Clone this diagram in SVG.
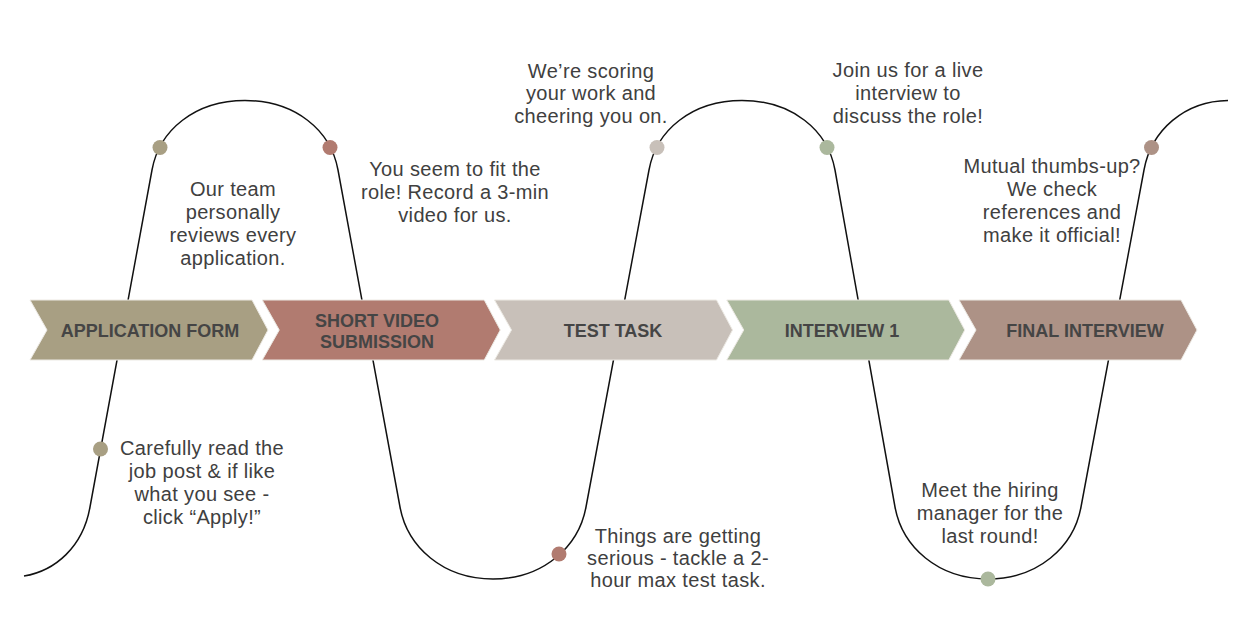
<svg xmlns="http://www.w3.org/2000/svg" width="1254" height="640" viewBox="0 0 1254 640">
<defs>
<style>
.desc{font-family:"Liberation Sans",Arial,sans-serif;font-size:20px;letter-spacing:0.35px;fill:#404040;text-anchor:middle}
.lbl{font-family:"Liberation Sans",Arial,sans-serif;font-size:18px;font-weight:700;fill:#454545;text-anchor:middle}
.chev{stroke:#ece9e3;stroke-width:1}
.curve{fill:none;stroke:#111;stroke-width:1.5}
</style>
</defs>
<rect width="1254" height="640" fill="#ffffff"/>
<g id="connectors">
<path class="curve" d="M24,576 C55,571 83,547 90,507 L152,170 C159.3,130 195,100.5 245,100.5 C295,100.5 330.7,130 338,170 L400,507 C407.3,547 443,579 493,579 C543,579 578.7,547 586,507 L649,170 C656.3,130 692,100.5 742,100.5 C792,100.5 827.7,130 835,170 L895,507 C902.3,547 938,579 988,579 C1038,579 1073.7,547 1081,507 L1144,170 C1151.3,130 1185,101 1228,100.5"/>
</g>
<g id="stage-application">
<polygon class="chev" fill="#a89f83" points="30,300 252,300 268,330 252,360 30,360 47,330"/>
<text class="lbl" x="150" y="336.5">APPLICATION FORM</text>
<circle cx="100.5" cy="449" r="7.5" fill="#a89f83"/>
<circle cx="160" cy="147.5" r="7.5" fill="#a89f83"/>
<text class="desc" x="202" y="455">Carefully read the</text>
<text class="desc" x="202" y="478">job post &amp; if like</text>
<text class="desc" x="202" y="501">what you see -</text>
<text class="desc" x="202" y="524">click “Apply!”</text>
<text class="desc" x="233" y="196">Our team</text>
<text class="desc" x="233" y="219">personally</text>
<text class="desc" x="233" y="242">reviews every</text>
<text class="desc" x="233" y="265">application.</text>
</g>
<g id="stage-video">
<polygon class="chev" fill="#b17b70" points="262.25,300 484.25,300 500.25,330 484.25,360 262.25,360 279.25,330"/>
<text class="lbl" x="377" y="326.5">SHORT VIDEO</text>
<text class="lbl" x="377" y="347.5">SUBMISSION</text>
<circle cx="330" cy="147.5" r="7.5" fill="#b17b70"/>
<circle cx="559" cy="554" r="7.5" fill="#b17b70"/>
<text class="desc" x="455" y="176">You seem to fit the</text>
<text class="desc" x="455" y="199">role! Record a 3-min</text>
<text class="desc" x="455" y="222">video for us.</text>
<text class="desc" x="678" y="543">Things are getting</text>
<text class="desc" x="678" y="565">serious - tackle a 2-</text>
<text class="desc" x="678" y="587">hour max test task.</text>
</g>
<g id="stage-test">
<polygon class="chev" fill="#c8c0b9" points="494.5,300 716.5,300 732.5,330 716.5,360 494.5,360 511.5,330"/>
<text class="lbl" x="613" y="336.5">TEST TASK</text>
<circle cx="657" cy="147.5" r="7.5" fill="#c8c0b9"/>
<text class="desc" x="591" y="78">We’re scoring</text>
<text class="desc" x="591" y="100">your work and</text>
<text class="desc" x="591" y="123">cheering you on.</text>
</g>
<g id="stage-interview1">
<polygon class="chev" fill="#abb89d" points="726.75,300 948.75,300 964.75,330 948.75,360 726.75,360 743.75,330"/>
<text class="lbl" x="842" y="336.5">INTERVIEW 1</text>
<circle cx="827" cy="147.5" r="7.5" fill="#abb89d"/>
<circle cx="988" cy="579" r="7.5" fill="#abb89d"/>
<text class="desc" x="908" y="77">Join us for a live</text>
<text class="desc" x="908" y="100">interview to</text>
<text class="desc" x="908" y="123">discuss the role!</text>
<text class="desc" x="990" y="497">Meet the hiring</text>
<text class="desc" x="990" y="520">manager for the</text>
<text class="desc" x="990" y="543">last round!</text>
</g>
<g id="stage-final">
<polygon class="chev" fill="#ad9286" points="959,300 1181,300 1197,330 1181,360 959,360 976,330"/>
<text class="lbl" x="1085" y="336.5">FINAL INTERVIEW</text>
<circle cx="1151.5" cy="147.5" r="7.5" fill="#ad9286"/>
<text class="desc" x="1052" y="173">Mutual thumbs-up?</text>
<text class="desc" x="1052" y="196">We check</text>
<text class="desc" x="1052" y="219">references and</text>
<text class="desc" x="1052" y="242">make it official!</text>
</g>
</svg>
